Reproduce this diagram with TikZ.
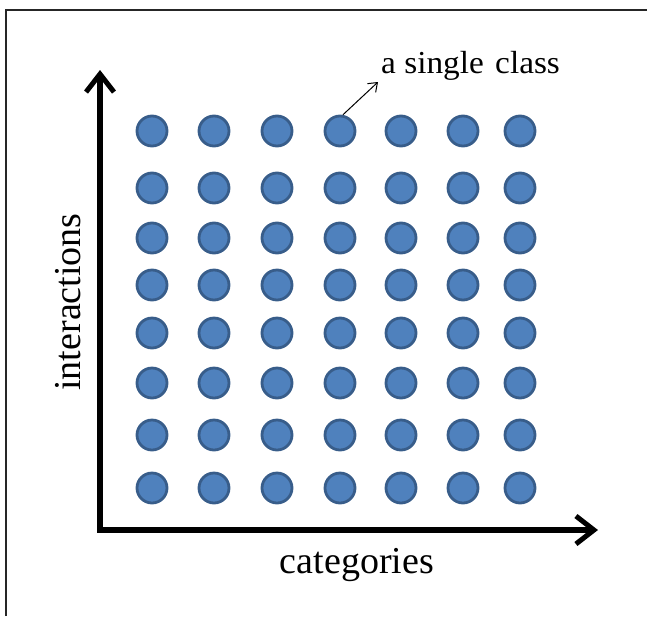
\documentclass[tikz,border=0pt]{standalone}
\usepackage{fontspec}
\setmainfont{Liberation Serif}
\usetikzlibrary{arrows.meta}
\definecolor{dotfill}{HTML}{4F81BD}
\definecolor{dotline}{HTML}{385D8A}
\begin{document}
\begin{tikzpicture}[x=1pt,y=-1pt,
  dot/.style={circle,minimum size=30pt,inner sep=0pt,fill=dotfill,draw=dotline,line width=2.8pt},
  axisbarb/.tip={Straight Barb[length=18pt,width=28pt,line width=5pt]},
  axis/.style={line width=6pt,line join=miter,{axisbarb}-{axisbarb}},
  frame/.style={line width=1.5pt,draw=black!85},
  lbl/.style={font=\fontsize{38}{40}\selectfont,inner sep=0pt}]
\useasboundingbox (0,0) rectangle (647,616);
\draw[frame] (6,616) -- (6,10) -- (647,10);
\coordinate (top) at (100,70);
\coordinate (origin) at (100,530);
\coordinate (right) at (598,530);
\draw[axis] (top) -- (origin) -- (right);
\foreach \r/\y in {1/131,2/188,3/238,4/285,5/333,6/383,7/435,8/488}{
  \foreach \c/\x in {1/152,2/214,3/277,4/340,5/401,6/463,7/520}{
    \node[dot] (d\r\c) at (\x,\y) {};
  }
}
\node[anchor=base west,inner sep=0pt,font=\fontsize{32}{34}\selectfont,xscale=1.04] (cls) at (381,73) {a single\hspace{3pt} class};
\coordinate (clsend) at (378,82);
\draw[line width=1pt,-{Straight Barb[length=8pt,width=12pt]}] (d14.80) -- (clsend);
\node[lbl,rotate=90] (ylab) at (68,302) {interactions};
\node[lbl] (xlab) at (357,565) {categories};
\end{tikzpicture}
\end{document}
